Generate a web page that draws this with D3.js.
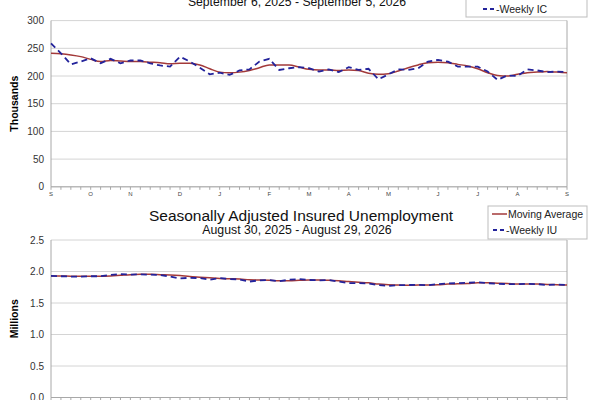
<!DOCTYPE html>
<html>
<head>
<meta charset="utf-8">
<script src="https://cdn.jsdelivr.net/npm/d3@7"></script>
<style>
  body { margin: 0; background: #fff; }
  svg { font-family: "Liberation Sans", Arial, sans-serif; }
</style>
</head>
<body>
<svg class="chart" width="600" height="400"></svg>
<script>
// initial claims, thousands, weekly Sep 6 2025 - Sep 5 2026
var weeklyIC = [259, 241, 221, 226, 232, 223, 231, 223, 228, 228, 223, 219, 217, 235,
  226, 215, 203, 206, 202, 210, 212, 226, 231, 211, 214, 216, 214, 208, 212, 207,
  216, 211, 213, 194, 203, 212, 211, 214, 226, 229, 226, 217, 217, 217, 208, 193,
  201, 200, 212, 210, 207, 208, 207];
var movingIC = [241, 240, 238, 235, 230, 226, 228, 227, 226, 226, 225, 224, 222, 223,
  223, 220, 213, 207, 206, 207, 210, 215, 220, 220, 220, 216, 212, 211, 211, 210,
  211, 210, 205, 203, 204, 209, 215, 220, 224, 225, 224, 221, 218, 213, 206, 201,
  200, 203, 206, 207, 208, 207, 206];
// insured unemployment, millions, weekly Aug 30 2025 - Aug 29 2026
var weeklyIU = [1.93, 1.925, 1.92, 1.92, 1.925, 1.925, 1.945, 1.96, 1.95, 1.955, 1.95,
  1.945, 1.92, 1.89, 1.90, 1.895, 1.87, 1.895, 1.88, 1.875, 1.84, 1.86, 1.865, 1.845,
  1.87, 1.88, 1.865, 1.86, 1.865, 1.84, 1.815, 1.815, 1.81, 1.785, 1.77, 1.785, 1.785,
  1.79, 1.78, 1.80, 1.81, 1.815, 1.82, 1.83, 1.815, 1.805, 1.80, 1.80, 1.805, 1.80,
  1.785, 1.795, 1.785];
var movingIU = [1.93, 1.93, 1.925, 1.925, 1.925, 1.925, 1.93, 1.94, 1.95, 1.955, 1.955,
  1.95, 1.945, 1.935, 1.92, 1.91, 1.90, 1.89, 1.885, 1.88, 1.87, 1.865, 1.86, 1.855,
  1.855, 1.86, 1.865, 1.865, 1.86, 1.855, 1.84, 1.83, 1.82, 1.80, 1.79, 1.785, 1.78,
  1.785, 1.785, 1.79, 1.80, 1.805, 1.81, 1.82, 1.82, 1.815, 1.81, 1.80, 1.80, 1.80,
  1.795, 1.79, 1.785];
var monthLabels = ["S", "O", "N", "D", "J", "F", "M", "A", "M", "J", "J", "A", "S"];
var monthWeeks = [0, 4, 8, 13, 17, 22, 26, 30, 34, 39, 43, 47, 52];
var icTicks = [0, 50, 100, 150, 200, 250, 300];
var iuTicks = [0, 0.5, 1.0, 1.5, 2.0, 2.5];

var svg = d3.select("svg.chart");
var maColor = "#a33a3a", wkColor = "#23239b", gridColor = "#d4d4d4", axisColor = "#a8a8a8";

var x = d3.scaleLinear().domain([0, 52]).range([51, 567]);

function drawPanel(opt) {
  var y = d3.scaleLinear().domain(opt.domain).range([opt.bottom, opt.top]);
  var g = svg.append("g");

  // gridlines
  g.selectAll("line.grid").data(opt.ticks).enter().append("line")
    .attr("x1", x.range()[0]).attr("x2", x.range()[1])
    .attr("y1", function(d) { return y(d); }).attr("y2", function(d) { return y(d); })
    .attr("stroke", gridColor).attr("stroke-width", 1);

  // left / right / bottom frame
  g.append("line").attr("x1", 51).attr("x2", 51).attr("y1", opt.top).attr("y2", opt.bottom)
    .attr("stroke", axisColor);
  g.append("line").attr("x1", 567).attr("x2", 567).attr("y1", opt.top).attr("y2", opt.bottom)
    .attr("stroke", axisColor);
  g.append("line").attr("x1", 51).attr("x2", 567).attr("y1", opt.bottom).attr("y2", opt.bottom)
    .attr("stroke", axisColor);

  // weekly tick marks
  g.selectAll("line.wk").data(d3.range(53)).enter().append("line")
    .attr("x1", function(d) { return x(d); }).attr("x2", function(d) { return x(d); })
    .attr("y1", opt.bottom).attr("y2", opt.bottom + 3)
    .attr("stroke", axisColor);

  // y tick labels
  g.selectAll("text.yt").data(opt.ticks).enter().append("text")
    .attr("x", 44).attr("y", function(d) { return y(d) + 3.5; })
    .attr("text-anchor", "end").attr("font-size", 10).attr("fill", "#333")
    .text(opt.fmt);

  // month labels (the lower panel's are below the page edge)
  if (opt.months) {
    g.selectAll("text.mt").data(monthLabels).enter().append("text")
      .attr("x", function(d, i) { return x(monthWeeks[i]); })
      .attr("y", opt.bottom + 9)
      .attr("text-anchor", "middle").attr("font-size", 6).attr("fill", "#444")
      .text(function(d) { return d; });
  }

  // y axis title
  g.append("text")
    .attr("transform", "translate(18," + ((opt.top + opt.bottom) / 2) + ") rotate(-90)")
    .attr("text-anchor", "middle").attr("font-size", 10.5).attr("font-weight", "bold")
    .text(opt.yLabel);

  var line = d3.line()
    .x(function(d, i) { return x(i); })
    .y(function(d) { return y(d); });

  g.append("path").datum(opt.ma).attr("d", line.curve(d3.curveMonotoneX))
    .attr("fill", "none").attr("stroke", maColor).attr("stroke-width", 1.5);
  g.append("path").datum(opt.wk).attr("d", line.curve(d3.curveLinear))
    .attr("fill", "none").attr("stroke", wkColor).attr("stroke-width", 1.8)
    .attr("stroke-dasharray", "6,4");
}

drawPanel({ domain: [0, 300], top: 20.6, bottom: 186.8, ticks: icTicks, months: true,
  fmt: function(d) { return d; }, yLabel: "Thousands", ma: movingIC, wk: weeklyIC });
drawPanel({ domain: [0, 2.5], top: 240, bottom: 397.5, ticks: iuTicks, months: false,
  fmt: d3.format(".1f"), yLabel: "Millions", ma: movingIU, wk: weeklyIU });

// titles
svg.append("text").attr("x", 297).attr("y", 6).attr("text-anchor", "middle")
  .attr("font-size", 12.2).attr("fill", "#111").text("September 6, 2025 - September 5, 2026");
svg.append("text").attr("x", 301).attr("y", 221).attr("text-anchor", "middle")
  .attr("font-size", 15.5).attr("fill", "#111").text("Seasonally Adjusted Insured Unemployment");
svg.append("text").attr("x", 297).attr("y", 234).attr("text-anchor", "middle")
  .attr("font-size", 12.3).attr("fill", "#111").text("August 30, 2025 - August 29, 2026");

// legends
function legend(x0, y0, w, h, rows) {
  var lg = svg.append("g");
  lg.append("rect").attr("x", x0).attr("y", y0).attr("width", w).attr("height", h)
    .attr("fill", "#fff").attr("stroke", "#bdbdbd");
  rows.forEach(function(r) {
    lg.append("line").attr("x1", r.x1).attr("x2", r.x2).attr("y1", r.y).attr("y2", r.y)
      .attr("stroke", r.color).attr("stroke-width", r.dash ? 1.8 : 1.5)
      .attr("stroke-dasharray", r.dash ? "4,3" : null);
    lg.append("text").attr("x", r.x2 + 1).attr("y", r.y + 3.5)
      .attr("font-size", 10.5).attr("fill", "#222").text(r.label);
  });
}
legend(466, -10, 121, 27, [
  { x1: 483, x2: 495, y: 9, color: wkColor, dash: true, label: "-Weekly IC" }
]);
legend(488, 206, 99, 33, [
  { x1: 492, x2: 507, y: 214, color: maColor, dash: false, label: "Moving Average" },
  { x1: 493, x2: 505, y: 230, color: wkColor, dash: true, label: "-Weekly IU" }
]);
</script>
</body>
</html>
